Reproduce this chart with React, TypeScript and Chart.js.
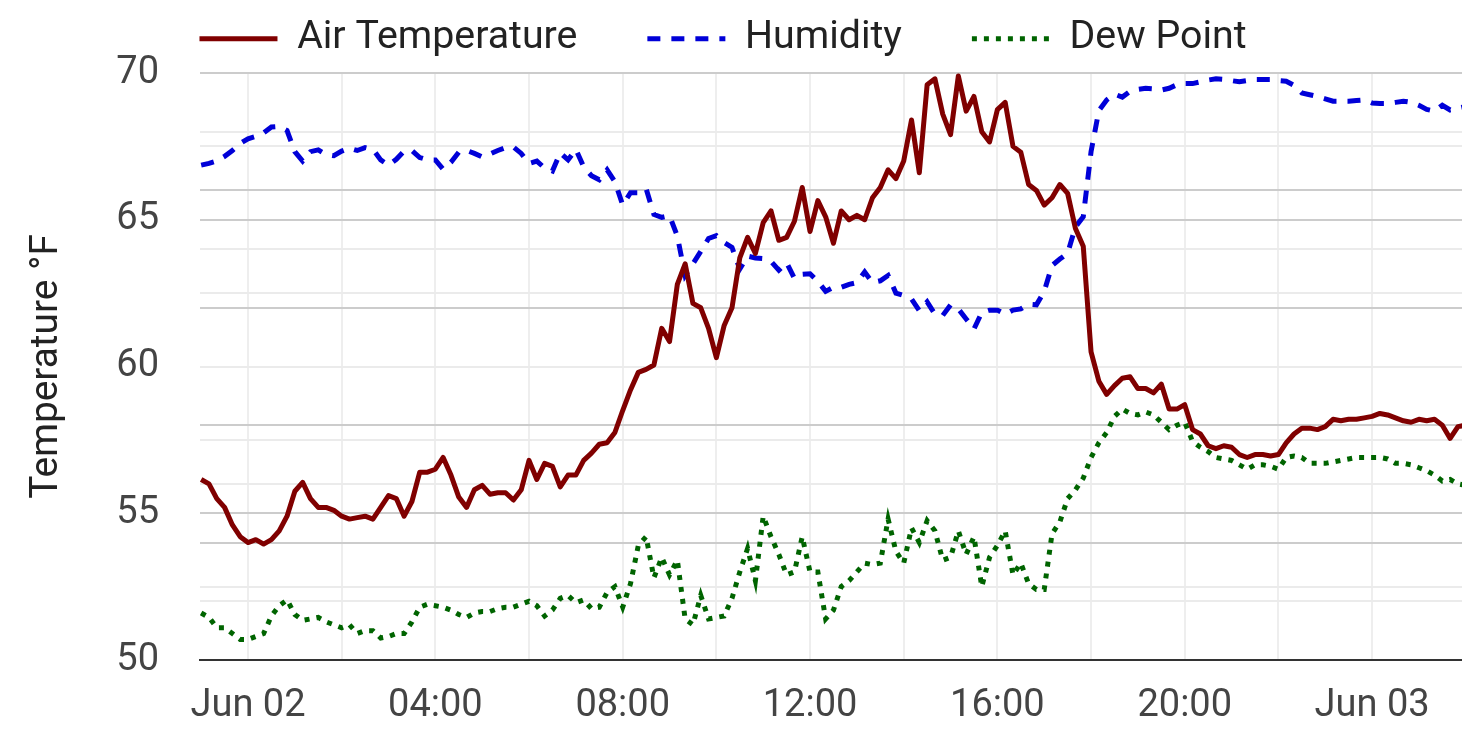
import { useEffect, useRef } from 'react';
import { Chart, registerables } from 'chart.js';

Chart.register(...registerables);

// Time line: readings every 10 minutes, starting 23:00 on Jun 01 (hours relative to Jun 02 00:00)
const startHour = -1;
const stepMinutes = 10;
const axisStartHour = -1.025;
const axisEndHour = 25.92;
const xTickHours = [0, 2, 4, 6, 8, 10, 12, 14, 16, 18, 20, 22, 24];
const dayLabels: Record<number, string> = { 0: 'Jun 02', 24: 'Jun 03' };

const tempMin = 50;
const tempMax = 70;
const tempMajorTicks = [50, 55, 60, 65, 70];
const humidityMin = 0;
const humidityMax = 100;

const seriesNames = ['Air Temperature', 'Humidity', 'Dew Point'];

const airTemperature = [
  56.15, 56.0, 55.5, 55.2, 54.6, 54.2, 54.0, 54.1, 53.95, 54.1,
  54.4, 54.9, 55.75, 56.05, 55.5, 55.2, 55.2, 55.1, 54.9, 54.8,
  54.85, 54.9, 54.8, 55.2, 55.6, 55.5, 54.9, 55.4, 56.4, 56.4,
  56.5, 56.9, 56.3, 55.55, 55.2, 55.8, 55.95, 55.65, 55.7, 55.7,
  55.45, 55.8,
  56.8, 56.15, 56.7, 56.6, 55.9, 56.3, 56.3, 56.8, 57.05, 57.35,
  57.4, 57.75, 58.5, 59.2, 59.8, 59.9, 60.05, 61.3, 60.85, 62.8,
  63.5, 62.15, 62.0, 61.3, 60.3, 61.4, 62.0, 63.7, 64.4, 63.85,
  64.9, 65.3, 64.3, 64.4, 64.95, 66.1, 64.6, 65.65, 65.1, 64.2,
  65.3,
  65.0, 65.15, 65.0, 65.75, 66.1, 66.7, 66.4, 67.0, 68.4, 66.6,
  69.6, 69.8, 68.6, 67.9, 69.9, 68.7, 69.2, 68.0, 67.65, 68.75,
  69.0, 67.5, 67.3, 66.2, 66.0, 65.5, 65.75, 66.2, 65.9, 64.7,
  64.1, 60.5, 59.5, 59.05, 59.35, 59.6, 59.65, 59.25,
  59.25, 59.1, 59.4,
  58.55, 58.55, 58.7, 57.85, 57.7, 57.3, 57.2, 57.3, 57.25, 57.0,
  56.9, 57.0, 57.0, 56.95, 57.0, 57.4, 57.7, 57.9, 57.9, 57.85,
  57.95, 58.2, 58.15, 58.2, 58.2, 58.25, 58.3, 58.4, 58.35, 58.25,
  58.15, 58.1, 58.2, 58.15, 58.2, 58.0, 57.55, 57.95, 58.0,
];

const humidity = [
  84.3, 84.6, 85.0, 85.8, 86.8, 88.0, 88.8, 89.2, 89.8, 90.8,
  90.9, 90.2, 86.6, 85.0, 86.6, 86.9, 86.1, 85.9, 86.7, 87.2,
  86.8, 87.3, 87.0, 85.2, 84.3, 85.3, 86.7, 86.8, 85.6, 85.2,
  85.2, 83.6, 84.8, 86.5, 86.8, 86.3, 85.7, 86.2, 86.8, 87.3,
  87.4, 86.3,
  84.6, 85.0, 83.8, 83.3, 86.4, 85.2, 87.0, 84.0, 82.5, 81.8,
  83.5, 81.5, 77.5, 79.6, 79.6, 80.3, 75.9, 75.4, 75.7, 72.2,
  65.5, 67.5, 69.6, 71.8, 72.3, 71.1, 70.3, 66.6, 68.8, 68.5,
  68.4, 67.9, 66.4, 67.7, 65.0, 65.7, 65.8, 64.5, 62.8, 63.5,
  63.5,
  64.0, 64.3, 66.1, 64.3, 64.6, 65.5, 62.5, 62.1, 61.5, 59.5,
  61.0, 58.9, 58.7, 60.5, 59.8, 58.1, 56.4, 59.2, 59.6, 59.6,
  58.9, 59.6, 59.8, 60.6, 60.5, 62.8, 67.2, 68.3, 69.3, 73.8,
  75.5, 86.6, 93.6, 95.4, 96.4, 95.9, 96.9, 97.2,
  97.4, 97.3, 97.1, 97.4, 98.0, 98.2, 98.2, 98.5, 98.8, 99.0,
  98.9, 98.7, 98.5, 98.7, 98.9, 98.9, 98.9, 98.7, 98.6, 97.9,
  96.6, 96.3, 96.0, 95.6, 95.2, 95.2, 95.2, 95.3, 95.4, 94.9,
  94.8, 94.8, 95.0, 95.2, 95.0, 94.5, 93.8, 93.5, 94.5, 93.7,
  94.0, 94.3,
];

const dewPoint = [
  51.6, 51.45, 51.1, 51.1, 50.9, 50.7, 50.7, 50.8, 50.9, 51.5,
  51.85, 52.05, 51.55, 51.35, 51.4, 51.45, 51.3, 51.2, 51.1, 51.2,
  50.9, 51.0, 51.0, 50.75, 50.8, 50.9, 50.9, 51.3, 51.8, 51.9,
  51.85, 51.8, 51.7, 51.55, 51.45, 51.6, 51.65, 51.65, 51.75, 51.8,
  51.8, 51.9,
  52.0, 51.85, 51.5, 51.7, 52.1, 52.2, 51.95, 52.05, 51.75, 51.8,
  52.3, 52.5, 51.8, 52.6, 53.9, 54.2, 52.8, 53.5, 52.9, 53.4,
  51.4, 51.2, 52.2, 51.4, 51.45, 51.5, 52.1, 53.0, 53.8, 52.7,
  54.9, 54.2, 53.6, 52.9, 53.0, 54.2, 53.0, 53.0, 51.4, 51.7,
  52.5,
  52.7, 53.0, 53.3, 53.25, 53.3, 54.8, 53.7, 53.3, 54.5, 54.0,
  54.75, 54.4, 53.4, 53.5, 54.4, 53.6, 54.2, 52.5, 53.5, 53.9,
  54.4, 52.9, 53.3, 52.6, 52.4, 52.4, 54.3, 54.7, 55.5, 55.8,
  56.2, 56.9, 57.4, 57.75, 58.3, 58.55, 58.4, 58.35,
  58.45, 58.35, 58.1, 57.85, 58.0, 58.1, 57.45, 57.25, 57.1, 56.9,
  56.85, 56.8, 56.65, 56.5, 56.65, 56.65, 56.6, 56.5, 56.9, 56.95,
  56.9, 56.7, 56.7, 56.7, 56.75, 56.8, 56.85, 56.9, 56.9, 56.9,
  56.9, 56.85, 56.7, 56.7, 56.65, 56.55, 56.45, 56.3, 56.1, 56.15,
  56.0, 55.95,
];

const FONT = 'Roboto, "Noto Sans", sans-serif';
const MAJOR_GRID = '#cccccc';
const MINOR_GRID = '#ebebeb';
const LINE_WIDTH = 5;

const toPoints = (values: number[]) =>
  values.map((v, i) => ({ x: startHour + (i * stepMinutes) / 60, y: v }));

const hourLabel = (h: number) => {
  if (dayLabels[h] !== undefined) return dayLabels[h];
  return `${String(h).padStart(2, '0')}:00`;
};

const isTempMajor = (v: number) => tempMajorTicks.some((t) => Math.abs(t - v) < 1e-6);

// Legend: keep wide gaps between items while placing the row near the top edge.
const LEGEND_HEIGHT = 73;
const LEGEND_ITEM_TOP = 19;
const LEGEND_SHIFT_X = -8;
const legendPlacement = {
  id: 'legendPlacement',
  beforeLayout(chart: any) {
    const legend = chart.legend;
    if (legend && !legend.__patched) {
      const fit = legend.fit.bind(legend);
      legend.fit = function () {
        fit();
        this.height = LEGEND_HEIGHT;
      };
      legend.__patched = true;
    }
  },
  afterLayout(chart: any) {
    const legend = chart.legend;
    if (!legend) return;
    const pad = legend.options.labels.padding;
    legend.top = LEGEND_ITEM_TOP - pad;
    legend.bottom = LEGEND_HEIGHT;
    legend.left = LEGEND_SHIFT_X;
    legend.right = chart.width + LEGEND_SHIFT_X;
  },
};

export default function App() {
  const canvasRef = useRef<HTMLCanvasElement | null>(null);

  useEffect(() => {
    document.body.style.margin = '0';
    const canvas = canvasRef.current;
    if (!canvas) return;
    const chart = new Chart(canvas, {
      type: 'line',
      data: {
        datasets: [
          {
            label: seriesNames[0],
            data: toPoints(airTemperature),
            yAxisID: 'y',
            borderColor: '#800000',
            backgroundColor: '#800000',
            borderWidth: LINE_WIDTH,
            borderJoinStyle: 'round',
            pointRadius: 0,
            tension: 0,
          },
          {
            label: seriesNames[1],
            data: toPoints(humidity),
            yAxisID: 'y2',
            borderColor: '#0000d8',
            backgroundColor: '#0000d8',
            borderWidth: LINE_WIDTH,
            borderDash: [13, 11],
            pointRadius: 0,
            tension: 0,
          },
          {
            label: seriesNames[2],
            data: toPoints(dewPoint),
            yAxisID: 'y',
            borderColor: '#006400',
            backgroundColor: '#006400',
            borderWidth: LINE_WIDTH,
            borderDash: [5, 7],
            pointRadius: 0,
            tension: 0,
          },
        ],
      },
      options: {
        animation: false,
        responsive: false,
        maintainAspectRatio: false,
        events: [],
        layout: { padding: 0 },
        plugins: {
          tooltip: { enabled: false },
          legend: {
            display: true,
            position: 'top',
            align: 'center',
            labels: {
              usePointStyle: true,
              pointStyle: 'line',
              pointStyleWidth: 78,
              boxHeight: 39,
              padding: 70,
              color: '#222222',
              font: { family: FONT, size: 39.3 },
              generateLabels: (c: any) => {
                const base = (Chart.defaults as any).plugins.legend.labels.generateLabels(c);
                return base.map((item: any) => {
                  const ds = c.data.datasets[item.datasetIndex];
                  return {
                    ...item,
                    pointStyle: 'line',
                    lineDash: ds.borderDash || [],
                    lineWidth: LINE_WIDTH,
                    strokeStyle: ds.borderColor,
                    fillStyle: ds.borderColor,
                    lineCap: 'butt',
                  };
                });
              },
            },
          },
        },
        scales: {
          x: {
            type: 'linear',
            min: axisStartHour,
            max: axisEndHour,
            afterBuildTicks: (scale: any) => {
              scale.ticks = xTickHours.map((v) => ({ value: v }));
            },
            afterFit: (scale: any) => {
              scale.height = 80;
            },
            ticks: {
              autoSkip: false,
              maxRotation: 0,
              padding: 24,
              color: '#444444',
              font: { family: FONT, size: 38 },
              callback: (value: any) => {
                const h = Number(value);
                return h % 4 === 0 ? hourLabel(h) : '';
              },
            },
            grid: {
              color: '#eeeeee',
              lineWidth: 2,
              drawTicks: false,
            },
            border: { display: true, color: '#333333', width: 2 },
          },
          y: {
            type: 'linear',
            position: 'left',
            min: tempMin,
            max: tempMax,
            afterFit: (scale: any) => {
              scale.width = 200;
            },
            ticks: {
              stepSize: 2.5,
              padding: 41,
              color: '#444444',
              font: { family: FONT, size: 38 },
              callback: (value: any) => {
                const v = Number(value);
                return isTempMajor(v) ? String(v) : '';
              },
            },
            grid: {
              drawTicks: false,
              lineWidth: 2,
              color: (ctx: any) => {
                const v = ctx.tick ? ctx.tick.value : 0;
                if (v === tempMin) return 'rgba(0,0,0,0)';
                return isTempMajor(v) ? MAJOR_GRID : MINOR_GRID;
              },
            },
            border: { display: false },
            title: {
              display: true,
              text: 'Temperature °F',
              color: '#222222',
              font: { family: FONT, size: 38.8 },
              padding: { top: 24, bottom: 0 },
            },
          },
          y2: {
            type: 'linear',
            position: 'right',
            min: humidityMin,
            max: humidityMax,
            afterFit: (scale: any) => {
              scale.width = 0;
            },
            ticks: { display: false, stepSize: 10 },
            grid: {
              drawTicks: false,
              lineWidth: 2,
              color: (ctx: any) => {
                const v = ctx.tick ? ctx.tick.value : 0;
                if (v === humidityMin) return 'rgba(0,0,0,0)';
                return v % 20 === 0 ? MAJOR_GRID : MINOR_GRID;
              },
            },
            border: { display: false },
          },
        },
      },
      plugins: [legendPlacement],
    } as any);
    return () => chart.destroy();
  }, []);

  return (
    <canvas
      ref={canvasRef}
      width={1462}
      height={740}
      style={{ display: 'block', width: 1462, height: 740 }}
    />
  );
}
